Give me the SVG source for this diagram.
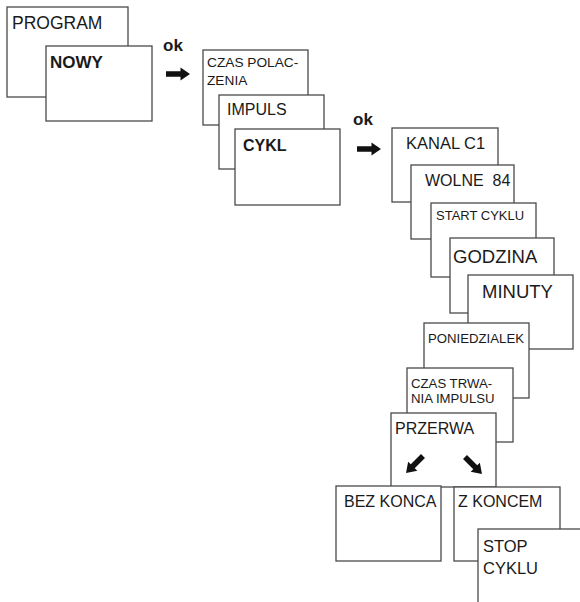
<svg xmlns="http://www.w3.org/2000/svg" width="580" height="602" viewBox="0 0 580 602">
<style>
.box{fill:#fff;stroke:#4a4a4a;stroke-width:1.3}
text{font-family:"Liberation Sans",Arial,Helvetica,sans-serif;fill:#1a1a1a}
.b{font-weight:bold}
.arr{fill:#111}
</style>
<defs>
<polygon id="arrow" points="0,-2.8 14.5,-2.8 14.5,-6.5 24,0 14.5,6.5 14.5,2.8 0,2.8"/>
</defs>
<rect width="580" height="602" fill="#fff"/>
<g id="n-program"><rect class="box" x="7" y="7" width="121" height="90"/><text x="12" y="29" font-size="17.5">PROGRAM</text></g>
<g id="n-nowy"><rect class="box" x="46" y="46" width="106" height="75"/><text class="b" x="50" y="68" font-size="17">NOWY</text></g>
<g id="n-czaspolac"><rect class="box" x="203" y="50" width="105" height="75"/><text x="207" y="67" font-size="13.7">CZAS POLAC-</text><text x="207" y="85" font-size="13.7">ZENIA</text></g>
<g id="n-impuls"><rect class="box" x="219" y="95" width="105" height="74"/><text x="227" y="115" font-size="16">IMPULS</text></g>
<g id="n-cykl"><rect class="box" x="235" y="129" width="105" height="76"/><text class="b" x="243" y="151" font-size="16">CYKL</text></g>
<g id="n-kanal"><rect class="box" x="392" y="128" width="106" height="74"/><text x="406" y="149" font-size="16.5">KANAL C1</text></g>
<g id="n-wolne"><rect class="box" x="411" y="165" width="103" height="74"/><text x="425" y="186" font-size="16" xml:space="preserve">WOLNE  84</text></g>
<g id="n-start"><rect class="box" x="431" y="203" width="105" height="74"/><text x="436" y="220" font-size="13">START CYKLU</text></g>
<g id="n-godzina"><rect class="box" x="450" y="238" width="104" height="75"/><text x="453" y="263" font-size="18.5">GODZINA</text></g>
<g id="n-minuty"><rect class="box" x="468" y="275" width="105" height="74"/><text x="482" y="298" font-size="18.5">MINUTY</text></g>
<g id="n-poniedzialek"><rect class="box" x="424" y="323" width="105" height="75"/><text x="428" y="343" font-size="13.2">PONIEDZIALEK</text></g>
<g id="n-czastrwania"><rect class="box" x="407" y="368" width="106" height="74"/><text x="411" y="388" font-size="13.2">CZAS TRWA-</text><text x="411" y="403" font-size="13.2">NIA IMPULSU</text></g>
<g id="n-przerwa"><rect class="box" x="391" y="413" width="105" height="74"/><text x="395" y="434" font-size="16">PRZERWA</text></g>
<g id="n-bezkonca"><rect class="box" x="336" y="486" width="105" height="75"/><text x="344" y="507" font-size="16">BEZ KONCA</text></g>
<g id="n-zkoncem"><rect class="box" x="454" y="487" width="106" height="74"/><text x="458" y="507" font-size="16">Z KONCEM</text></g>
<g id="n-stop"><rect class="box" x="478" y="529" width="110" height="80"/><text x="483" y="552" font-size="16.5">STOP</text><text x="483" y="574" font-size="16.5">CYKLU</text></g>
<g id="connectors">
<text class="b" x="163" y="51" font-size="17">ok</text>
<use href="#arrow" class="arr" transform="translate(166,74)"/>
<text class="b" x="353" y="125" font-size="17">ok</text>
<use href="#arrow" class="arr" transform="translate(357,149)"/>
<use href="#arrow" class="arr" transform="translate(423,456) rotate(135)"/>
<use href="#arrow" class="arr" transform="translate(465,457) rotate(45)"/>
</g>
</svg>
